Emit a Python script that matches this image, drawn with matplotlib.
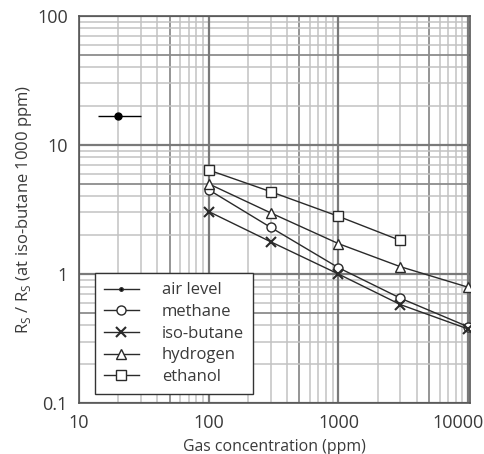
import numpy as np
import matplotlib
matplotlib.use('Agg')
import matplotlib.pyplot as plt
import matplotlib.transforms as mtransforms
from matplotlib.ticker import FixedLocator, NullFormatter

# data (gas concentration in ppm, Rs/Rs ratio)
conc = [100, 300, 1000, 3000, 10000]
methane = [4.5, 2.3, 1.12, 0.65, 0.39]
isobutane = [3.05, 1.78, 1.0, 0.58, 0.375]
hydrogen = [5.0, 2.98, 1.72, 1.14, 0.79]
ethanol_conc = [100, 300, 1000, 3000]
ethanol = [6.4, 4.35, 2.8, 1.82]

air_x = 20
air_y = 16.8
air_xrange = [14, 30]

x_ticks = [10, 100, 1000, 10000]
x_ticklabels = ['10', '100', '1000', '10000']
y_ticks = [0.1, 1, 10, 100]
y_ticklabels = ['0.1', '1', '10', '100']

plt.rcParams['font.family'] = ['Open Sans', 'DejaVu Sans']
txt = '#3a3a3a'

fig = plt.figure(figsize=(4.84, 4.54), dpi=100)
ax = fig.add_axes([0.163, 0.112, 0.808, 0.853])
ax.set_xscale('log')
ax.set_yscale('log')
ax.set_xlim(10, 10300)
ax.set_ylim(0.1, 100)

# grid: majors dark, "5" minors dark, others light
def minor_vals(lo, hi, mults):
    vals = []
    d = lo
    while d < hi:
        for m in mults:
            if d * m < hi * 1.05:
                vals.append(d * m)
        d *= 10
    return vals

for v in minor_vals(10, 10300, [2, 3, 4, 6, 7, 8, 9]):
    ax.axvline(v, color='#c2c2c2', lw=1.1, zorder=0)
for v in minor_vals(10, 10300, [5]):
    ax.axvline(v, color='#8c8c8c', lw=1.3, zorder=0)
for v in minor_vals(0.1, 100, [2, 3, 4, 6, 7, 8, 9]):
    ax.axhline(v, color='#c2c2c2', lw=1.1, zorder=0)
for v in minor_vals(0.1, 100, [5]):
    ax.axhline(v, color='#8c8c8c', lw=1.3, zorder=0)
for v in x_ticks:
    ax.axvline(v, color='#7a7a7a', lw=1.6, zorder=0)
for v in y_ticks:
    ax.axhline(v, color='#7a7a7a', lw=1.6, zorder=0)

lc = '#2a2a2a'
mk = dict(markerfacecolor='white', markeredgecolor=lc, markeredgewidth=1.0, markersize=6.5)

ax.errorbar([air_x], [air_y],
            xerr=[[air_x - air_xrange[0]], [air_xrange[1] - air_x]],
            fmt='o', color='black', markersize=5, elinewidth=1.0, capsize=0, zorder=3)
h_air, = ax.plot([], [], color=lc, lw=1.0, marker='.', markersize=5, markerfacecolor='black')

h_m, = ax.plot(conc, methane, color=lc, lw=1.0, marker='o', **mk, zorder=3)
h_i, = ax.plot(conc, isobutane, color=lc, lw=1.0, marker='x', markeredgecolor=lc,
               markeredgewidth=1.5, markersize=6.5, zorder=3)
h_h, = ax.plot(conc, hydrogen, color=lc, lw=1.0, marker='^', **mk, zorder=3)
h_e, = ax.plot(ethanol_conc, ethanol, color=lc, lw=1.0, marker='s', **mk, zorder=3)

ax.xaxis.set_major_locator(FixedLocator(x_ticks))
ax.set_xticklabels(x_ticklabels)
ax.yaxis.set_major_locator(FixedLocator(y_ticks))
ax.set_yticklabels(y_ticklabels)
ax.xaxis.set_minor_formatter(NullFormatter())
ax.yaxis.set_minor_formatter(NullFormatter())
ax.tick_params(which='both', length=0, labelsize=13, colors=txt, pad=8)

# last x label sits pulled left so it fits in the picture
last = ax.get_xticklabels()[-1]
last.set_transform(last.get_transform() +
                   mtransforms.ScaledTranslation(-10 / 100, 0, fig.dpi_scale_trans))

for s in ax.spines.values():
    s.set_color('#555555')
    s.set_linewidth(1.2)

ax.set_xlabel('Gas concentration (ppm)', fontsize=11.4, color=txt, labelpad=5)
ax.set_ylabel('R$_\\mathregular{S}$ / R$_\\mathregular{S}$ (at iso-butane 1000 ppm)',
              fontsize=12, color=txt, labelpad=2)

leg = ax.legend([h_air, h_m, h_i, h_h, h_e],
                ['air level', 'methane', 'iso-butane', 'hydrogen', 'ethanol'],
                loc='lower left', bbox_to_anchor=(0.04, 0.023), fontsize=12,
                handlelength=2.1, handletextpad=1.4, borderpad=0.55, labelspacing=0.34,
                borderaxespad=0, fancybox=False, framealpha=1, edgecolor='#333333')
leg.get_frame().set_linewidth(1.0)
for t in leg.get_texts():
    t.set_color(txt)

fig.savefig('out.png', dpi=100)
